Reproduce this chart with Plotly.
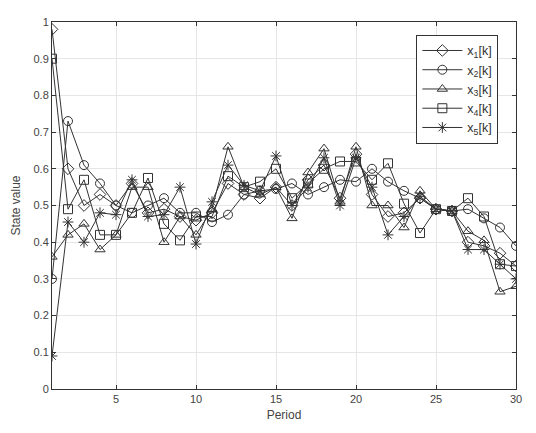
import plotly.graph_objects as go

periods = list(range(1, 31))
x1 = [0.98, 0.60, 0.50, 0.53, 0.50, 0.56, 0.48, 0.49, 0.47, 0.46, 0.48, 0.56, 0.53, 0.52, 0.55,
      0.50, 0.57, 0.61, 0.52, 0.64, 0.53, 0.47, 0.48, 0.52, 0.49, 0.485, 0.40, 0.39, 0.37, 0.335]
x2 = [0.30, 0.73, 0.61, 0.56, 0.50, 0.48, 0.50, 0.52, 0.48, 0.48, 0.455, 0.475, 0.53, 0.54, 0.545,
      0.56, 0.53, 0.55, 0.57, 0.565, 0.60, 0.565, 0.54, 0.52, 0.49, 0.485, 0.49, 0.465, 0.44, 0.39]
x3 = [0.36, 0.42, 0.45, 0.38, 0.42, 0.55, 0.55, 0.40, 0.47, 0.42, 0.49, 0.66, 0.55, 0.53, 0.55,
      0.465, 0.59, 0.655, 0.51, 0.66, 0.50, 0.50, 0.44, 0.54, 0.49, 0.485, 0.43, 0.405, 0.265, 0.28]
x4 = [0.90, 0.49, 0.57, 0.42, 0.42, 0.48, 0.575, 0.45, 0.405, 0.47, 0.47, 0.58, 0.55, 0.565, 0.60,
      0.52, 0.56, 0.60, 0.62, 0.62, 0.57, 0.615, 0.505, 0.425, 0.49, 0.485, 0.52, 0.47, 0.34, 0.335]
x5 = [0.09, 0.455, 0.40, 0.48, 0.475, 0.57, 0.47, 0.475, 0.55, 0.395, 0.51, 0.61, 0.555, 0.54, 0.635,
      0.50, 0.55, 0.63, 0.50, 0.63, 0.55, 0.42, 0.47, 0.525, 0.49, 0.485, 0.38, 0.38, 0.34, 0.30]

series = [x1, x2, x3, x4, x5]
names = ["x<sub>1</sub>[k]", "x<sub>2</sub>[k]", "x<sub>3</sub>[k]", "x<sub>4</sub>[k]", "x<sub>5</sub>[k]"]
symbols = ["diamond-open", "circle-open", "triangle-up-open", "square-open", "asterisk-open"]

fig = go.Figure()
for ys, nm, sym in zip(series, names, symbols):
    fig.add_trace(go.Scatter(
        x=periods, y=ys, name=nm, mode="lines+markers",
        line=dict(color="#333333", width=1),
        marker=dict(symbol=sym, size=9, color="#333333", line=dict(width=1, color="#333333")),
    ))

axis_common = dict(
    showline=True, linecolor="#333333", linewidth=1, mirror="allticks",
    ticks="inside", ticklen=4, tickcolor="#333333",
    showgrid=True, gridcolor="#e6e6e6", gridwidth=1, zeroline=False,
    tickfont=dict(family="Liberation Sans, Arial", size=11, color="#444444"),
)

fig.update_layout(
    width=536, height=433,
    margin=dict(l=52, r=20, t=22, b=44),
    paper_bgcolor="white", plot_bgcolor="white",
    font=dict(family="Liberation Sans, Arial", size=11, color="#333333"),
    xaxis=dict(range=[1, 30], tickvals=[5, 10, 15, 20, 25, 30],
               title=dict(text="Period", font=dict(size=12, color="#444444"), standoff=6),
               **axis_common),
    yaxis=dict(range=[0, 1], tickvals=[i / 10 for i in range(11)],
               ticktext=["0", "0.1", "0.2", "0.3", "0.4", "0.5", "0.6", "0.7", "0.8", "0.9", "1"],
               title=dict(text="State value", font=dict(size=12, color="#444444"), standoff=10),
               **axis_common),
    legend=dict(x=0.962, y=0.965, xanchor="right", yanchor="top",
                bgcolor="white", bordercolor="#333333", borderwidth=1,
                font=dict(size=12.5, color="#333333"), tracegroupgap=0, itemwidth=40),
    showlegend=True,
)

fig.write_html("out.html")
